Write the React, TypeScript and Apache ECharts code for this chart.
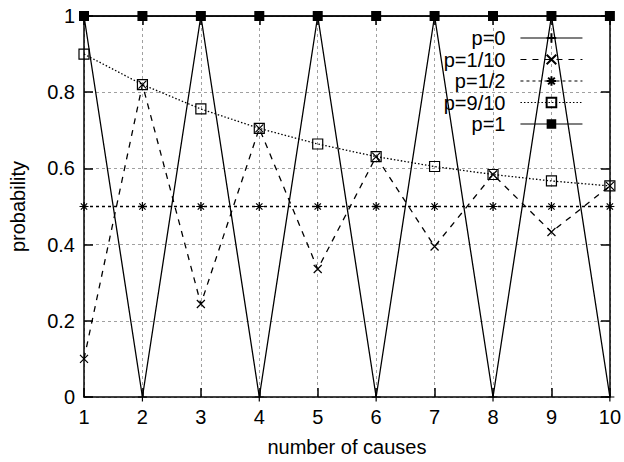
import React, { useEffect, useRef } from 'react';
import * as echarts from 'echarts';

const causes = [1, 2, 3, 4, 5, 6, 7, 8, 9, 10];
const seriesNames = ['p=0', 'p=1/10', 'p=1/2', 'p=9/10', 'p=1'];
const pZero = [1, 0, 1, 0, 1, 0, 1, 0, 1, 0];
const pTenth = [0.1, 0.82, 0.244, 0.705, 0.336, 0.631, 0.395, 0.584, 0.433, 0.554];
const pHalf = [0.5, 0.5, 0.5, 0.5, 0.5, 0.5, 0.5, 0.5, 0.5, 0.5];
const pNineTenths = [0.9, 0.82, 0.756, 0.705, 0.664, 0.631, 0.605, 0.584, 0.567, 0.554];
const pOne = [1, 1, 1, 1, 1, 1, 1, 1, 1, 1];

const FONT = 'Liberation Sans, Arial, sans-serif';
const FS = 20;

const PLUS = 'path://M5,0L5,10M0,5L10,5';
const CROSS = 'path://M0,0L10,10M10,0L0,10';
const STAR = 'path://M5,0L5,10M0,5L10,5M1.5,1.5L8.5,8.5M8.5,1.5L1.5,8.5';
const SQUARE = 'path://M0,0L10,0L10,10L0,10Z';

function mk(name: string, vals: number[], symbol: string, size: number, dash: any, filled: boolean) {
  return {
    name,
    type: 'line',
    data: causes.map((c, i) => [c, vals[i]]),
    symbol,
    symbolSize: size,
    showSymbol: true,
    lineStyle: { color: '#000', width: 1.3, type: dash },
    itemStyle: {
      color: filled ? '#000' : 'rgba(0,0,0,0)',
      borderColor: '#000',
      borderWidth: filled ? 0 : 1.2,
    },
    emphasis: { disabled: true },
  };
}

export default function App() {
  const ref = useRef<HTMLDivElement>(null);
  useEffect(() => {
    const chart = echarts.init(ref.current!, undefined, { renderer: 'svg' });
    const axisCommon = {
      type: 'value',
      axisLine: { show: true, onZero: false, lineStyle: { color: '#000', width: 1.5 } },
      axisTick: { show: true, inside: true, length: 9, lineStyle: { color: '#000', width: 1.5 } },
    };
    chart.setOption({
      animation: false,
      backgroundColor: '#fff',
      grid: { left: 82, right: 13, top: 16, bottom: 63 },
      textStyle: { fontFamily: FONT },
      legend: {
        data: seriesNames,
        orient: 'vertical',
        align: 'right',
        right: 36,
        top: 23,
        itemWidth: 62,
        itemHeight: 12,
        itemGap: 1.5,
        selectedMode: false,
        lineStyle: { width: 1.1 },
        textStyle: { fontFamily: FONT, fontSize: FS, color: '#000', padding: [0, 10, 0, 0] },
      },
      xAxis: [
        {
          ...axisCommon,
          min: 1,
          max: 10,
          interval: 1,
          position: 'bottom',
          name: 'number of causes',
          nameLocation: 'middle',
          nameGap: 40,
          nameTextStyle: { fontFamily: FONT, fontSize: FS, color: '#000' },
          axisLabel: { margin: 10, fontFamily: FONT, fontSize: FS, color: '#000' },
          splitLine: { show: true, lineStyle: { color: '#a0a0a0', width: 1, type: [3, 3] } },
        },
        {
          ...axisCommon,
          min: 1,
          max: 10,
          interval: 1,
          position: 'top',
          axisLabel: { show: false },
          splitLine: { show: false },
        },
      ],
      yAxis: [
        {
          ...axisCommon,
          min: 0,
          max: 1,
          interval: 0.2,
          position: 'left',
          name: 'probability',
          nameLocation: 'middle',
          nameRotate: 90,
          nameGap: 56,
          nameTextStyle: { fontFamily: FONT, fontSize: FS, color: '#000' },
          axisLabel: { margin: 9, fontFamily: FONT, fontSize: FS, color: '#000' },
          splitLine: { show: true, lineStyle: { color: '#a0a0a0', width: 1, type: [3, 3] } },
        },
        {
          ...axisCommon,
          min: 0,
          max: 1,
          interval: 0.2,
          position: 'right',
          axisLabel: { show: false },
          splitLine: { show: false },
        },
      ],
      series: [
        mk('p=0', pZero, PLUS, 9, 'solid', false),
        mk('p=1/10', pTenth, CROSS, 8, [6, 6], false),
        mk('p=1/2', pHalf, STAR, 9, [3, 3], false),
        mk('p=9/10', pNineTenths, SQUARE, 10, [1.5, 2], false),
        mk('p=1', pOne, 'rect', 10, 'solid', true),
      ],
    });
    return () => chart.dispose();
  }, []);
  return (
    <div
      ref={ref}
      style={{ position: 'absolute', left: 0, top: 0, width: 624, height: 462 }}
    />
  );
}
